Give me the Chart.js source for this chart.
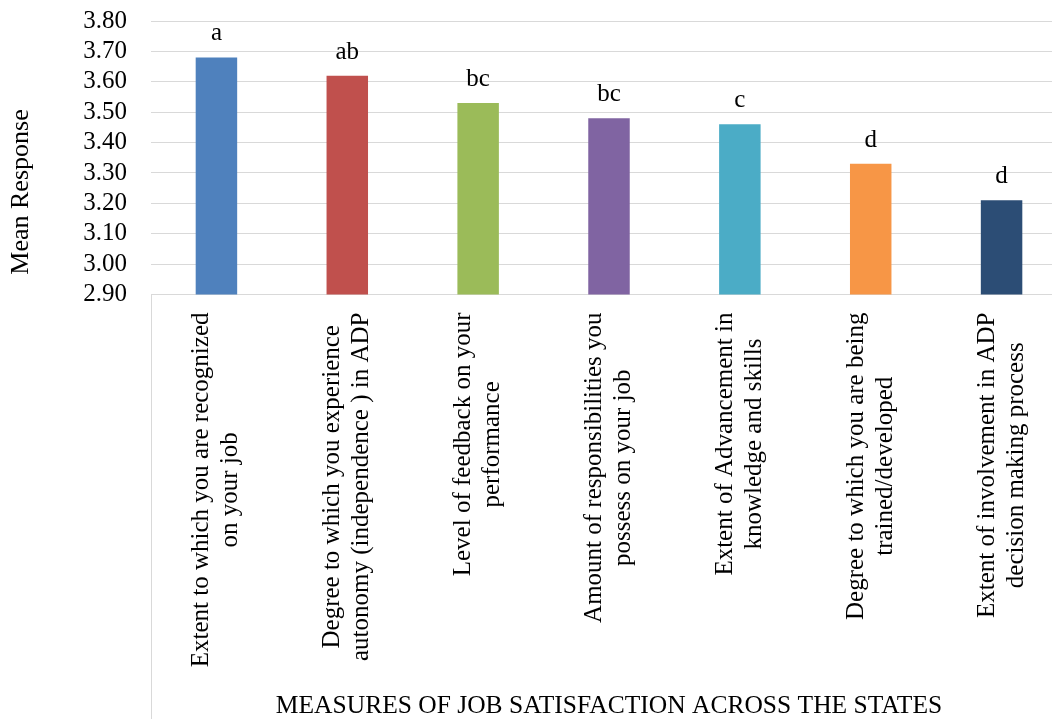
<!DOCTYPE html>
<html>
<head>
<meta charset="utf-8">
<script src="https://cdn.jsdelivr.net/npm/chart.js@4.4.1/dist/chart.umd.min.js"></script>
<style>
  html, body { margin: 0; padding: 0; background: #fff; overflow: hidden; }
  #wrap { position: relative; width: 1067px; height: 719px; }
</style>
</head>
<body>
<div id="wrap"><canvas id="chart"></canvas></div>
<script>
const measures = [
  ['Extent to which you are recognized', 'on your job'],
  ['Degree to which you experience', 'autonomy (independence ) in ADP'],
  ['Level of feedback on your', 'performance'],
  ['Amount of responsibilities you', 'possess on your job'],
  ['Extent of Advancement in', 'knowledge and skills'],
  ['Degree to which you are being', 'trained/developed'],
  ['Extent of involvement in ADP', 'decision making process']
];
const meanResponse = [3.68, 3.62, 3.53, 3.48, 3.46, 3.33, 3.21];
const groupLetters = ['a', 'ab', 'bc', 'bc', 'c', 'd', 'd'];
const barColors = ['#4F81BD', '#C0504D', '#9BBB59', '#8064A2', '#4BACC6', '#F79646', '#2C4D75'];
const yMin = 2.9, yMax = 3.8, yStep = 0.1;

const SERIF = '"Liberation Serif", "Times New Roman", serif';

// letters over bars, rotated two-line category names, y title, divider
const annotate = {
  id: 'annotate',
  afterDraw(chart) {
    const {ctx, chartArea, scales: {x}} = chart;
    ctx.save();
    ctx.fillStyle = '#000';
    ctx.font = '25px ' + SERIF;
    ctx.textAlign = 'center';
    ctx.textBaseline = 'alphabetic';
    chart.getDatasetMeta(0).data.forEach((bar, i) => {
      ctx.fillText(groupLetters[i], bar.x, bar.y - 17);
    });

    const lineH = 29;
    measures.forEach((lines, i) => {
      const cx = x.getPixelForValue(i);
      const w = Math.max(...lines.map(l => ctx.measureText(l).width));
      ctx.save();
      ctx.translate(cx, chartArea.bottom + 18 + w / 2);
      ctx.rotate(-Math.PI / 2);
      ctx.textBaseline = 'middle';
      lines.forEach((l, j) => ctx.fillText(l, 0, (j - (lines.length - 1) / 2) * lineH));
      ctx.restore();
    });

    ctx.save();
    ctx.font = '26px ' + SERIF;
    ctx.translate(21, 192);
    ctx.rotate(-Math.PI / 2);
    ctx.textBaseline = 'middle';
    ctx.fillText('Mean Response', 0, 0);
    ctx.restore();

    ctx.strokeStyle = '#d9d9d9';
    ctx.lineWidth = 1;
    ctx.beginPath();
    ctx.moveTo(Math.round(chartArea.left) + 0.5, chartArea.bottom);
    ctx.lineTo(Math.round(chartArea.left) + 0.5, chart.height);
    ctx.stroke();
    ctx.restore();
  }
};

new Chart(document.getElementById('chart'), {
  type: 'bar',
  data: {
    labels: measures,
    datasets: [{
      data: meanResponse,
      backgroundColor: barColors,
      categoryPercentage: 1,
      barPercentage: 0.317
    }]
  },
  options: {
    responsive: true,
    maintainAspectRatio: false,
    animation: false,
    layout: { padding: { top: 21, left: 0, right: 0, bottom: 0 } },
    plugins: { legend: { display: false }, tooltip: { enabled: false } },
    scales: {
      x: {
        grid: { display: false, drawTicks: false },
        border: { display: false },
        ticks: { display: false },
        title: {
          display: true,
          text: 'MEASURES OF JOB SATISFACTION ACROSS THE STATES',
          color: '#000',
          font: { family: SERIF, size: 25.5, lineHeight: 1 },
          padding: { top: 399, bottom: 0 }
        }
      },
      y: {
        min: yMin,
        max: yMax,
        beginAtZero: false,
        grid: { color: '#d9d9d9', drawTicks: false },
        border: { display: false },
        ticks: {
          stepSize: yStep,
          autoSkip: false,
          padding: 24,
          color: '#000',
          font: { family: SERIF, size: 25, lineHeight: 1 },
          callback: v => Number(v).toFixed(2)
        },
        afterFit(s) {
          s.width = 151;
          s.paddingTop = 0;
          s.paddingBottom = 0;
        }
      }
    }
  },
  plugins: [annotate]
});
</script>
</body>
</html>
